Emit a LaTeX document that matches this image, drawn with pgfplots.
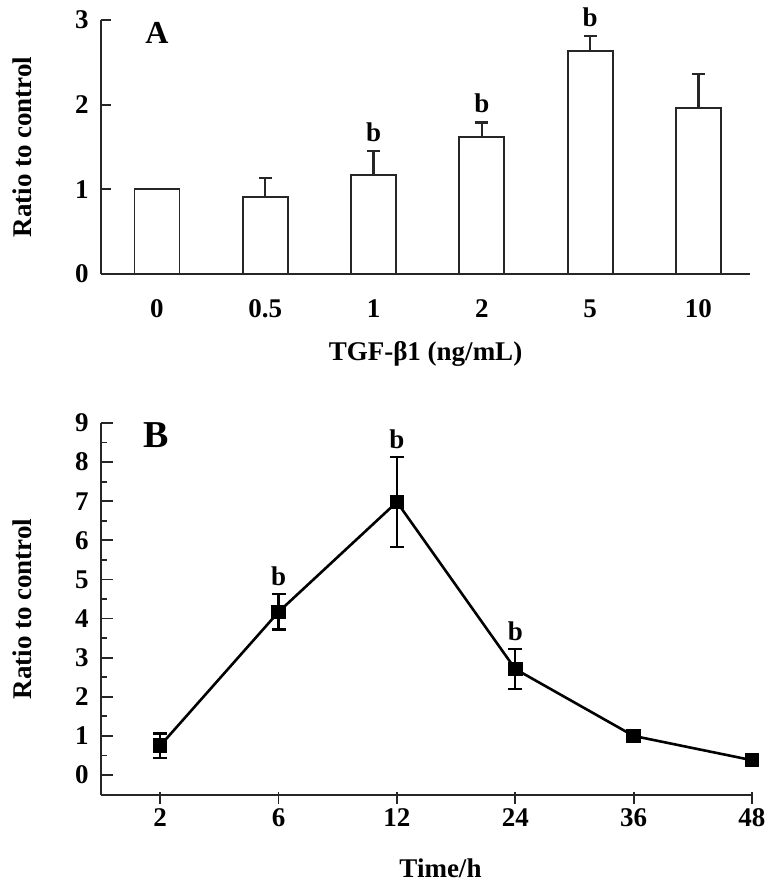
\documentclass[border=0pt]{standalone}
\usepackage{fontspec}
\setmainfont{Liberation Serif}
\usepackage{pgfplots}
\pgfplotsset{compat=1.18}
\newcommand\ff{\fontsize{13.5}{16}\selectfont\bfseries}
\pgfplotsset{
  common/.style={
    scale only axis, anchor=south west, clip=false,
    axis lines*=left,
    axis line style={line width=1pt, black!85},
    tick align=inside,
    tick style={line width=0.9pt, black!85},
    /pgf/number format/assume math mode=true,
    tick label style={font=\ff},
    label style={font=\ff},
    yticklabel style={anchor=east, inner sep=0pt, xshift=-6pt},
    xticklabel style={anchor=base, inner sep=0pt},
  }
}
\begin{document}
\begin{tikzpicture}[x=1pt,y=1pt]
\useasboundingbox (0,0) rectangle (384,445.5);
% Panel A
\begin{axis}[common,
  at={(50.5pt,308.5pt)}, width=324.5pt, height=127pt,
  xmin=-0.517, xmax=5.476, ymin=0, ymax=3,
  ytick={0,1,2,3}, xtick={0,1,2,3,4,5}, xticklabels={0,0.5,1,2,5,10},
  major tick length=5pt,
  x tick style={draw=none},
  xticklabel style={yshift=-17pt},
  xlabel={TGF-β1 (ng/mL)}, ylabel={Ratio to control},
  xlabel style={at={(axis description cs:0.5,0)}, anchor=center, yshift=-40pt},
  ylabel style={at={(axis description cs:-0.121,0.5)}, anchor=center},
  ybar, bar width=22.5pt,
]
\addplot[fill=white, draw=black!85, line width=0.9pt,
  error bars/.cd, y dir=plus, y explicit,
  error bar style={line width=1.1pt, black!85},
  error mark options={rotate=90, mark size=3.25pt, line width=1.1pt, black!85}]
  coordinates {(0,1.00) +- (0,0) (1,0.91) +- (0,0.22) (2,1.17) +- (0,0.28)
               (3,1.62) +- (0,0.17) (4,2.63) +- (0,0.18) (5,1.96) +- (0,0.40)};
\node[font=\ff, anchor=base, inner sep=0pt, yshift=5pt] at (axis cs:2,1.45) {b};
\node[font=\ff, anchor=base, inner sep=0pt, yshift=5pt] at (axis cs:3,1.79) {b};
\node[font=\ff, anchor=base, inner sep=0pt, yshift=5pt] at (axis cs:4,2.81) {b};
\node[font=\fontsize{16}{18}\selectfont\bfseries] at (axis cs:0,2.85) {A};
\end{axis}
% Panel B
\begin{axis}[common,
  at={(50.5pt,48pt)}, width=325.5pt, height=186pt,
  xmin=-0.5, xmax=5, ymin=-0.51, ymax=9,
  ytick={0,1,2,3,4,5,6,7,8,9}, minor ytick={0.5,1.5,2.5,3.5,4.5,5.5,6.5,7.5,8.5},
  xtick={0,1,2,3,4,5}, xticklabels={2,6,12,24,36,48},
  major tick length=6pt, minor tick length=3pt,
  x tick style={yshift=-4.5pt},
  xticklabel style={yshift=-16pt},
  xlabel={Time/h}, ylabel={Ratio to control},
  xlabel style={at={(axis description cs:0.5,0)}, anchor=center, yshift=-36.5pt, xshift=7pt},
  ylabel style={at={(axis description cs:-0.1206,0.5)}, anchor=center},
]
\addplot[black, line width=1.3pt, mark=square*, mark size=3pt, mark options={solid, fill=black},
  error bars/.cd, y dir=both, y explicit,
  error bar style={line width=1.1pt, black},
  error mark options={rotate=90, mark size=3.5pt, line width=1.1pt, black}]
  coordinates {(0,0.75) +- (0,0.31) (1,4.17) +- (0,0.45) (2,6.98) +- (0,1.15)
               (3,2.71) +- (0,0.51) (4,1.00) +- (0,0.05) (5,0.38) +- (0,0.05)};
\node[font=\ff, anchor=base, inner sep=0pt, yshift=4.5pt] at (axis cs:1,4.62) {b};
\node[font=\ff, anchor=base, inner sep=0pt, yshift=4.5pt] at (axis cs:2,8.13) {b};
\node[font=\ff, anchor=base, inner sep=0pt, yshift=4.5pt] at (axis cs:3,3.22) {b};
\node[font=\fontsize{19}{21}\selectfont\bfseries] at (axis cs:-0.03,8.7) {B};
\end{axis}
\end{tikzpicture}
\end{document}
